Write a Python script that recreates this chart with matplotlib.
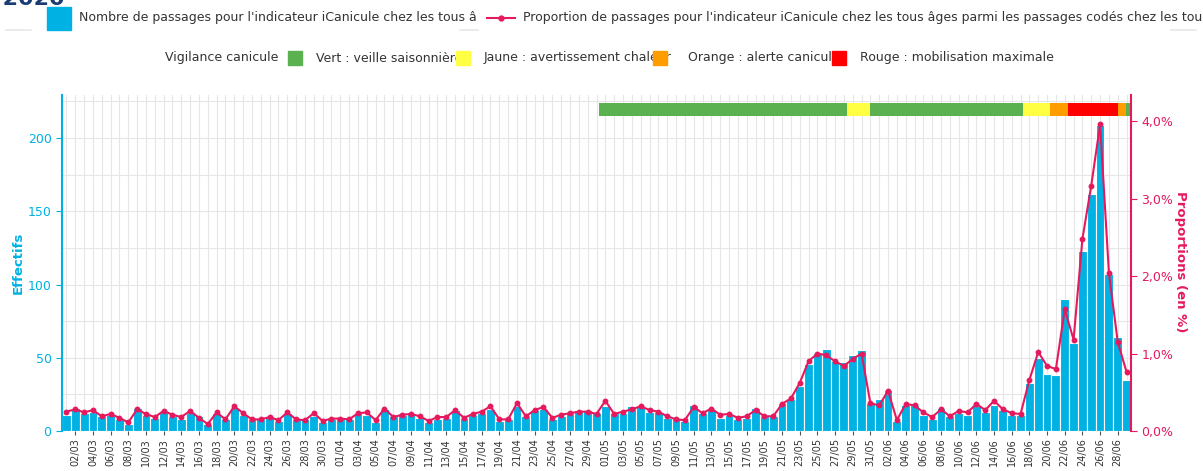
import numpy as np
import pandas as pd
import matplotlib
matplotlib.use("Agg")
import matplotlib.pyplot as plt
from matplotlib.patches import Rectangle
from matplotlib.lines import Line2D
from matplotlib.transforms import Bbox

# daily data, 01/03/2020 -> 29/06/2020
dates = pd.date_range("2020-03-01", "2020-06-29", freq="D")
date_labels = [d.strftime("%d/%m") for d in dates]

counts = [11, 16, 12, 13, 10, 11, 8, 5, 16, 11, 9, 13, 10, 8, 12, 10, 5, 12, 8, 16, 11, 8, 8,
          10, 7, 12, 8, 8, 10, 6, 8, 8, 8, 12, 11, 6, 15, 10, 11, 12, 9, 6, 8, 9,
          14, 9, 11, 12, 15, 7, 8, 17, 10, 14, 15, 8, 10, 12, 14, 14, 12, 17, 12, 12, 17, 17,
          13, 13, 9, 8, 7, 18, 12, 14, 9, 11, 8, 9, 16, 10, 10, 19, 22, 31, 46, 53, 56, 48,
          47, 52, 55, 19, 22, 28, 7, 18, 18, 11, 8, 16, 10, 12, 11, 17, 13, 18, 14, 11, 11,
          33, 50, 39, 38, 90, 60, 123, 162, 209, 107, 64, 35]

proportions = [0.25, 0.28, 0.24, 0.27, 0.19, 0.22, 0.17, 0.11, 0.28, 0.22, 0.18, 0.26, 0.21, 0.18,
               0.26, 0.17, 0.09, 0.24, 0.15, 0.32, 0.23, 0.15, 0.15,
               0.18, 0.14, 0.24, 0.15, 0.14, 0.23, 0.13, 0.16, 0.16, 0.15, 0.23, 0.24, 0.14, 0.29,
               0.18, 0.21, 0.22, 0.19, 0.13, 0.18, 0.18,
               0.27, 0.17, 0.22, 0.25, 0.32, 0.15, 0.15, 0.36, 0.19, 0.27, 0.31, 0.17, 0.21, 0.23,
               0.25, 0.25, 0.22, 0.39, 0.22, 0.25, 0.28, 0.32,
               0.27, 0.25, 0.19, 0.15, 0.14, 0.31, 0.23, 0.29, 0.21, 0.22, 0.17, 0.19, 0.27, 0.19,
               0.19, 0.35, 0.42, 0.62, 0.90, 1.00, 0.98, 0.90,
               0.84, 0.93, 1.00, 0.36, 0.33, 0.52, 0.14, 0.35, 0.33, 0.24, 0.18, 0.28, 0.19, 0.26,
               0.24, 0.35, 0.27, 0.39, 0.28, 0.23, 0.22,
               0.66, 1.02, 0.84, 0.80, 1.57, 1.18, 2.48, 3.17, 3.96, 2.04, 1.15, 0.76]

# vigilance canicule periods (day index from 01/03)
vig_start = [60.3, 88.4, 91.0, 108.3, 111.3, 113.4, 119.0, 119.9]
vig_end = [88.4, 91.0, 108.3, 111.3, 113.4, 119.0, 119.9, 120.5]
vig_level = ["Vert", "Jaune", "Vert", "Jaune", "Orange", "Rouge", "Orange", "Vert"]

vig_names = ["Vert : veille saisonnière", "Jaune : avertissement chaleur",
             "Orange : alerte canicule", "Rouge : mobilisation maximale"]
vig_colors = {"Vert": "#5bb14f", "Jaune": "#ffff44", "Orange": "#ff9c00", "Rouge": "#ff0000"}

BLUE = "#00b2e3"
PINK = "#e5195e"
W, H = 1203, 471


def fx(x):
    return x / W


def fy(y):
    return 1 - y / H


fig = plt.figure(figsize=(W / 100, H / 100), dpi=100)
ax = fig.add_axes([fx(62), fy(431), fx(1131 - 62), (431 - 95) / H])
ax2 = ax.twinx()

x = np.arange(len(counts))
ax.bar(x, counts, width=1.0, color=BLUE, edgecolor="white", linewidth=0.8, zorder=2)

# vigilance band
for s, e, lv in zip(vig_start, vig_end, vig_level):
    ax.barh(219.5, e - s, left=s, height=9, color=vig_colors[lv], zorder=3)

ax2.plot(x, proportions, color=PINK, lw=1.5, marker="o", ms=3.2, zorder=4)

ax.set_xlim(-0.5, len(counts) - 0.5)
ax.set_ylim(0, 229.4)
ax2.set_ylim(0, 4.34)

ax.set_xticks(x[1::2])
ax.set_xticklabels(date_labels[1::2], rotation=90, fontsize=7, color="#333333")
ax.set_xticks(x, minor=True)
ax.tick_params(axis="x", which="major", length=3, color="#555555", pad=2)
ax.tick_params(axis="x", which="minor", length=0)

ax.set_yticks([0, 50, 100, 150, 200])
ax.set_yticks([25, 75, 125, 175, 225], minor=True)
ax.tick_params(axis="y", which="major", colors=BLUE, labelsize=9, length=4, labelcolor=BLUE)
ax.tick_params(axis="y", which="minor", length=0)
ax.grid(True, which="both", color="#e6e6e6", lw=0.8, zorder=0)
ax.set_axisbelow(True)

ax2.set_yticks([0, 1, 2, 3, 4])
ax2.set_yticklabels([("%.1f%%" % v).replace(".", ",") for v in [0, 1, 2, 3, 4]])
ax2.tick_params(axis="y", colors=PINK, labelsize=9, length=4, labelcolor=PINK)

for a in (ax, ax2):
    a.spines["top"].set_visible(False)
    a.spines["bottom"].set_visible(False)
ax.spines["right"].set_visible(False)
ax.spines["left"].set_color(BLUE)
ax.spines["left"].set_linewidth(1.5)
ax2.spines["left"].set_visible(False)
ax2.spines["right"].set_color(PINK)
ax2.spines["right"].set_linewidth(1.5)

fig.text(fx(18), fy(263), "Effectifs", rotation=90, color=BLUE, fontsize=9.5,
         fontweight="bold", ha="center", va="center")
fig.text(fx(1180), fy(262), "Proportions (en %)", rotation=270, color=PINK, fontsize=9.5,
         fontweight="bold", ha="center", va="center")

# title, mostly outside the picture as in the source
fig.text(fx(65), fy(4), "du 01/03/2020 au 30/06/2020", color="#1b3b73", fontsize=16,
         fontweight="bold", ha="right", va="baseline")

# legend row 1
fs = 9
fig.patches.append(Rectangle((fx(47), fy(30)), fx(24), 23 / H, color=BLUE,
                             transform=fig.transFigure, figure=fig))
t = fig.text(fx(79), fy(18), "Nombre de passages pour l'indicateur iCanicule chez les tous âges",
             fontsize=fs, color="#333333", va="center")
t.set_clip_box(Bbox([[0, 0], [477, H]]))
t.set_clip_on(True)
fig.lines.append(Line2D([fx(487), fx(515)], [fy(18), fy(18)], color=PINK, lw=1.5,
                       transform=fig.transFigure))
fig.lines.append(Line2D([fx(501)], [fy(18)], color=PINK, marker="o", ms=3.5,
                       transform=fig.transFigure))
fig.text(fx(523), fy(18),
         "Proportion de passages pour l'indicateur iCanicule chez les tous âges parmi "
         "les passages codés chez les tous âges",
         fontsize=fs, color="#333333", va="center")
for x0, x1, yy in [(6, 31, 30), (460, 478, 30), (1171, 1196, 30)]:
    fig.lines.append(Line2D([fx(x0), fx(x1)], [fy(yy), fy(yy)], color="#e8e8e8", lw=1.2,
                           transform=fig.transFigure))

# legend row 2
fig.text(fx(165), fy(58), "Vigilance canicule", fontsize=fs, color="#333333", va="center")
sq_x = [288, 456, 653, 832]
txt_x = [316, 484, 688, 860]
for name, lv, sx, tx in zip(vig_names, ["Vert", "Jaune", "Orange", "Rouge"], sq_x, txt_x):
    fig.text(fx(tx), fy(58), name, fontsize=fs, color="#333333", va="center")
    fig.patches.append(Rectangle((fx(sx), fy(65)), fx(14), 14 / H, color=vig_colors[lv],
                                 transform=fig.transFigure, figure=fig, zorder=5))

fig.savefig("out.png", dpi=100)
